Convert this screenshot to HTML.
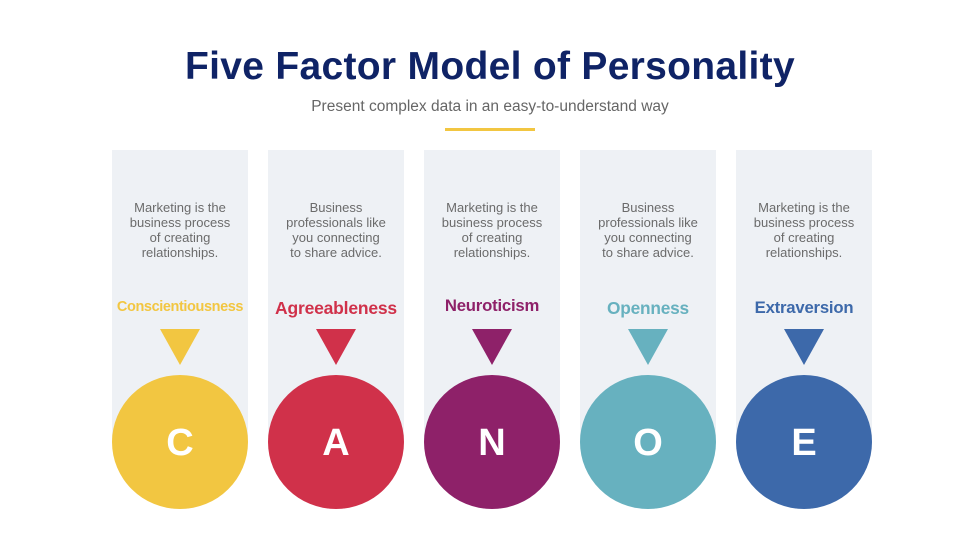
<!DOCTYPE html>
<html><head><style>
body{margin:0;width:980px;height:551px;background:#fff;position:relative;overflow:hidden;font-family:"Liberation Sans",sans-serif}
.t{position:absolute;top:45px;left:0;width:980px;text-align:center;font-size:39px;font-weight:bold;color:#0f2366;letter-spacing:0.3px}
.s{position:absolute;top:98px;left:0;width:980px;text-align:center;font-size:15.5px;color:#666}
.ln{position:absolute;left:445px;top:128px;width:90px;height:3px;background:#f2c641}
.p{position:absolute;top:150px;width:136px;height:292px;background:#eef1f5}
.tx{position:absolute;top:200px;width:136px;text-align:center;font-size:13px;line-height:15px;color:#6b6b6b}
.lb{position:absolute;top:298px;width:136px;text-align:center;font-size:16.7px;font-weight:bold;white-space:nowrap;letter-spacing:-0.2px}
.tr{position:absolute;top:329px;width:0;height:0;border-left:20.5px solid transparent;border-right:20.5px solid transparent;border-top:36px solid}
.c{position:absolute;top:375px;width:136px;height:134px;border-radius:50%;color:#fff;font-size:38px;font-weight:bold;text-align:center;line-height:136px}
</style></head><body>
<div class="t">Five Factor Model of Personality</div>
<div class="s">Present complex data in an easy-to-understand way</div>
<div class="ln"></div>

<div class="p" style="left:112px"></div>
<div class="tx" style="left:112px">Marketing is the<br>business process<br>of creating<br>relationships.</div>
<div class="lb" style="left:112px;color:#f2c641;font-size:14.5px;top:299px;letter-spacing:-0.4px">Conscientiousness</div>
<div class="tr" style="left:159.5px;border-top-color:#f2c641"></div>
<div class="c" style="left:112px;background:#f2c641">C</div>

<div class="p" style="left:268px"></div>
<div class="tx" style="left:268px">Business<br>professionals like<br>you connecting<br>to share advice.</div>
<div class="lb" style="left:268px;color:#d0314a;font-size:17.5px">Agreeableness</div>
<div class="tr" style="left:315.5px;border-top-color:#d0314a"></div>
<div class="c" style="left:268px;background:#d0314a">A</div>

<div class="p" style="left:424px"></div>
<div class="tx" style="left:424px">Marketing is the<br>business process<br>of creating<br>relationships.</div>
<div class="lb" style="left:424px;color:#8e2169;top:296px">Neuroticism</div>
<div class="tr" style="left:471.5px;border-top-color:#8e2169"></div>
<div class="c" style="left:424px;background:#8e2169">N</div>

<div class="p" style="left:580px"></div>
<div class="tx" style="left:580px">Business<br>professionals like<br>you connecting<br>to share advice.</div>
<div class="lb" style="left:580px;color:#67b1bf;font-size:17.3px">Openness</div>
<div class="tr" style="left:627.5px;border-top-color:#67b1bf"></div>
<div class="c" style="left:580px;background:#67b1bf">O</div>

<div class="p" style="left:736px"></div>
<div class="tx" style="left:736px">Marketing is the<br>business process<br>of creating<br>relationships.</div>
<div class="lb" style="left:736px;color:#3d69aa">Extraversion</div>
<div class="tr" style="left:783.5px;border-top-color:#3d69aa"></div>
<div class="c" style="left:736px;background:#3d69aa">E</div>
</body></html>
